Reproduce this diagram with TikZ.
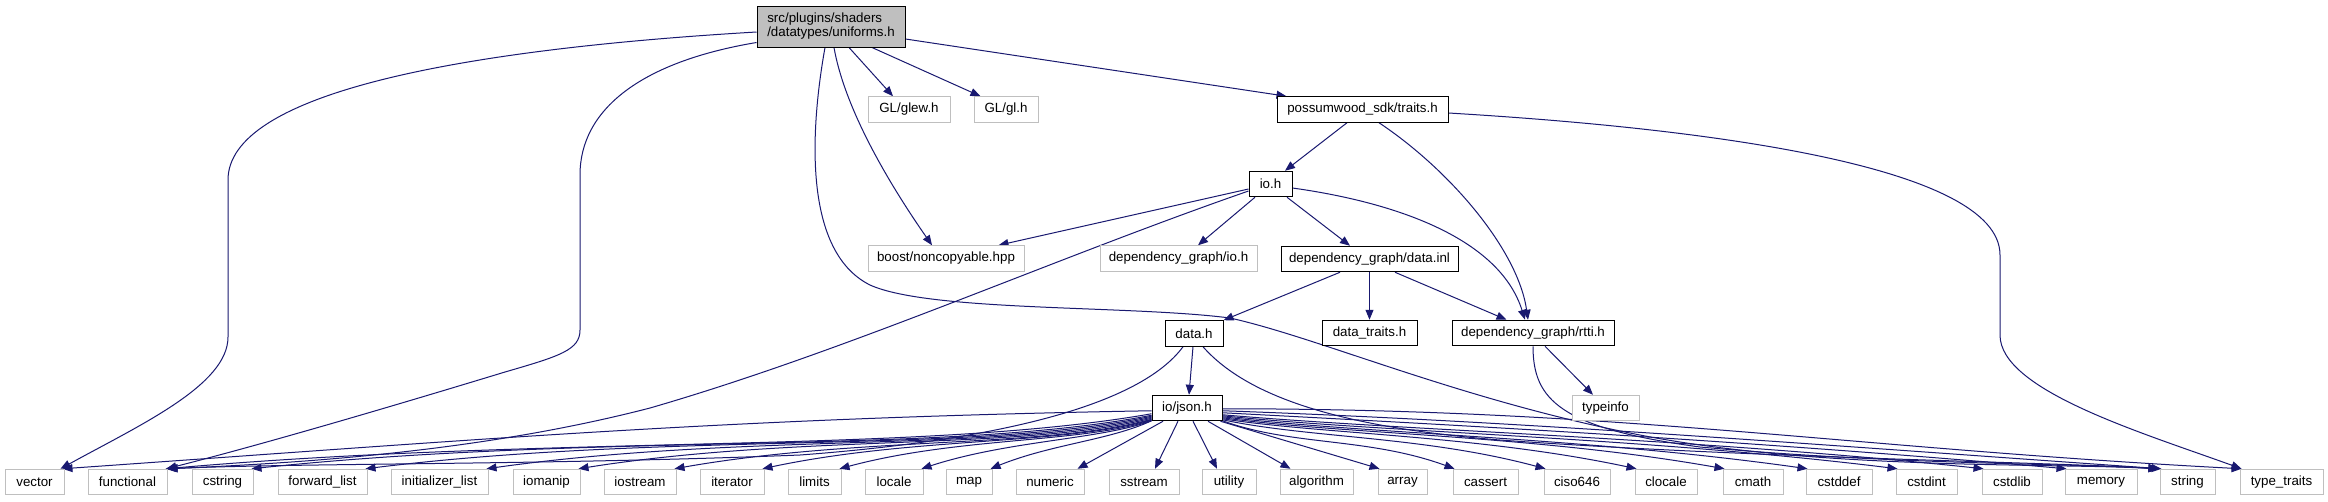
\documentclass[tikz,border=0pt]{standalone}
\usepackage{fontspec}
\setmainfont{Liberation Sans}
\usetikzlibrary{arrows.meta,calc,backgrounds}
\definecolor{edgeblue}{HTML}{191970}
\definecolor{leafgray}{HTML}{BFBFBF}
\tikzset{
 dox/.style={draw, line width=0.75pt, inner sep=0pt, minimum height=25.5*0.75pt, font=\fontsize{10pt}{10.5pt}\selectfont, fill=white},
 leaf/.style={dox, draw=leafgray},
 mainbox/.style={dox, draw=black},
 rootbox/.style={dox, draw=black, fill=leafgray, minimum height=41*0.75pt, align=left},
 bw/.style={minimum width=#1*0.75pt},
 dep/.style={draw=edgeblue, line width=0.75pt, -{Triangle[length=7.5pt,width=6pt]}},
}
\begin{document}
\begin{tikzpicture}[x=0.75pt,y=-0.75pt]
\useasboundingbox (0,0) rectangle (2328,501);
% nodes
\node[rootbox,bw=148] (root) at (831,26.5) {src/plugins/shaders\\/datatypes/uniforms.h};
\node[leaf,bw=82] (glew) at (909,109.5) {GL/glew.h};
\node[leaf,bw=64] (gl) at (1006,109.5) {GL/gl.h};
\node[mainbox,bw=171] (poss) at (1362.5,109.5) {possumwood\_sdk/traits.h};
\node[mainbox,bw=43] (ioh) at (1270.5,184) {io.h};
\node[leaf,bw=156] (boost) at (946,258.5) {boost/noncopyable.hpp};
\node[leaf,bw=157] (dgio) at (1178.5,258.5) {dependency\_graph/io.h};
\node[mainbox,bw=177] (datainl) at (1369.5,259) {dependency\_graph/data.inl};
\node[mainbox,bw=58] (datah) at (1194,333.5) {data.h};
\node[mainbox,bw=95] (dtraits) at (1369.5,333) {data\_traits.h};
\node[mainbox,bw=162] (rtti) at (1533,333) {dependency\_graph/rtti.h};
\node[leaf,bw=67] (typeinfo) at (1605.5,408) {typeinfo};
\node[mainbox,bw=70] (json) at (1187,408) {io/json.h};
\foreach \n/\x/\w/\l in {vector/34.5/59/vector, functional/127.5/79/functional, cstring/222.5/61/cstring,
  forwardlist/322.5/89/forward\_list, initlist/439.5/97/initializer\_list, iomanip/546.5/67/iomanip,
  iostream/640/72/iostream, iterator/732/64/iterator, limits/814.5/53/limits, locale/894/58/locale,
  map/969/46/map, numeric/1050/68/numeric, sstream/1144/70/sstream, utility/1229/54/utility,
  algorithm/1316.5/73/algorithm, array/1402.5/49/array, cassert/1485.5/65/cassert, ciso646/1577/66/ciso646,
  clocale/1666/62/clocale, cmath/1753/60/cmath, cstddef/1839/66/cstddef, cstdint/1926.5/61/cstdint,
  cstdlib/2012/60/cstdlib, memory/2101/72/memory, string/2187.5/55/string, typetraits/2281.5/83/type\_traits}
  \node[leaf,bw=\w] (\n) at (\x,482) {\l};
\begin{pgfonlayer}{background}
\fill[white] (0,0) rectangle (2328,501);
% root edges
\draw[dep] ($(root.west)+(0,5.5)$) .. controls (450,50) and (228,95) .. (228,180) -- (228,337)
  .. controls (228,385) and (140,425) .. ($(vector.north east)+(-4,0)$);
\draw[dep] ($(root.south west)+(0,-5)$) .. controls (640,62) and (580,110) .. (580,175) -- (580,330)
  .. controls (580,350) and (560,356) .. (505,372) .. controls (380,410) and (260,445) .. ($(functional.north east)+(-1,0)$);
\draw[dep] ($(root.south)+(-6,0)$) .. controls (812,120) and (800,250) .. (870,285)
  .. controls (930,312) and (1130,305) .. (1230,318) .. controls (1320,338) and (1460,400) .. (1640,435)
  .. controls (1820,470) and (2050,463) .. ($(string.north west)+(-1,0)$);
\draw[dep] ($(root.south)+(18,0)$) -- ($(glew.north)+(-16,0)$);
\draw[dep] ($(root.south)+(41,0)$) -- ($(gl.north west)+(7,0)$);
\draw[dep] ($(root.east)+(0,12.5)$) -- ($(poss.north west)+(10,0)$);
\draw[dep] ($(root.south)+(3,0)$) .. controls (845,110) and (890,185) .. ($(boost.north)+(-14,0)$);
% possumwood edges
\draw[dep] ($(poss.south)+(-15.5,0)$) -- ($(ioh.north)+(14.5,0)$);
\draw[dep] ($(poss.south)+(16.5,0)$) .. controls (1450,170) and (1518,250) .. ($(rtti.north)+(-5,0)$);
\draw[dep] ($(poss.east)+(0,3.5)$) .. controls (1700,128) and (2000,165) .. (2000,255) -- (2000,335)
  .. controls (2000,390) and (2140,432) .. ($(typetraits.north west)+(2,0)$);
% io.h edges
\draw[dep] ($(ioh.west)+(0,5)$) -- ($(boost.north east)+(-26,0)$);
\draw[dep] ($(ioh.west)+(0,7)$) .. controls (1050,260) and (850,350) .. (650,408)
  .. controls (480,452) and (300,463) .. ($(functional.north east)+(0,0)$);
\draw[dep] ($(ioh.south)+(-15.5,0)$) -- ($(dgio.north)+(19.5,0)$);
\draw[dep] ($(ioh.south)+(16.5,0)$) -- ($(datainl.north)+(-19.5,0)$);
\draw[dep] ($(ioh.east)+(0,4)$) .. controls (1400,203) and (1500,240) .. ($(rtti.north)+(-8,0)$);
% data.inl edges
\draw[dep] ($(datainl.south)+(-29.5,0)$) -- (datah.north east);
\draw[dep] (datainl.south) -- (dtraits.north);
\draw[dep] ($(datainl.south)+(25.5,0)$) -- ($(rtti.north west)+(55,0)$);
% data.h edges
\draw[dep] ($(datah.south)+(-1,0)$) -- ($(json.north)+(2,0)$);
\draw[dep] ($(datah.south)+(-11,0)$) .. controls (1140,405) and (1000,440) .. (800,455)
  .. controls (550,465) and (300,463) .. ($(functional.north east)+(0,0)$);
\draw[dep] ($(datah.south)+(9,0)$) .. controls (1250,400) and (1350,428) .. (1500,440)
  .. controls (1750,458) and (2050,462) .. ($(string.north west)+(-1,0)$);
% rtti edges
\draw[dep] ($(rtti.south)+(12,0)$) -- ($(typeinfo.north)+(-12.5,0)$);
\draw[dep] (rtti.south) .. controls (1533,400) and (1560,428) .. (1700,447)
  .. controls (1900,465) and (2060,463) .. ($(string.north west)+(-1,0)$);
% json fan
\foreach \t/\ys/\o/\i/\lo in {vector/411/181/4/1, functional/414/190/5/0.6, cstring/415.5/191/6/0.6,
  forwardlist/416.5/192/7/0.6, initlist/417.5/193/8/0.6, iomanip/418.5/194/9/0.6, iostream/419.5/195/10/0.6,
  iterator/420/196/12/0.6, limits/420.5/198/15/0.6, locale/421/200/18/0.6, map/421/205/22/0.7}
  \draw[dep] ($(json.north west)+(0,{\ys-395})$) to[out=\o,in=\i,out looseness=\lo] ($(\t.north east)+(-2,0)$);
\foreach \t/\ys/\o/\i/\lo in {cassert/421/-20/160/0.8, ciso646/420/-12/165/0.7, clocale/419/-9/168/0.6,
  cmath/418/-8/170/0.6, cstddef/417/-7/172/0.6, cstdint/416/-6/173/0.6, cstdlib/415/-5/174/0.6,
  memory/413/-3/175/0.7, string/411/-2/176/0.8, typetraits/409/0/177/1}
  \draw[dep] ($(json.north east)+(0,{\ys-395})$) to[out=\o,in=\i,out looseness=\lo] ($(\t.north west)+(2,0)$);
\draw[dep] ($(json.south)+(-24,0)$) -- ($(numeric.north east)+(-7,0)$);
\draw[dep] ($(json.south)+(-9,0)$) -- ($(sstream.north)+(11,0)$);
\draw[dep] ($(json.south)+(6,0)$) -- ($(utility.north)+(-12,0)$);
\draw[dep] ($(json.south)+(21,0)$) -- ($(algorithm.north)+(-26,0)$);
\draw[dep] ($(json.south east)+(-2,0)$) -- ($(array.north west)+(2,0)$);
\end{pgfonlayer}
\end{tikzpicture}
\end{document}
